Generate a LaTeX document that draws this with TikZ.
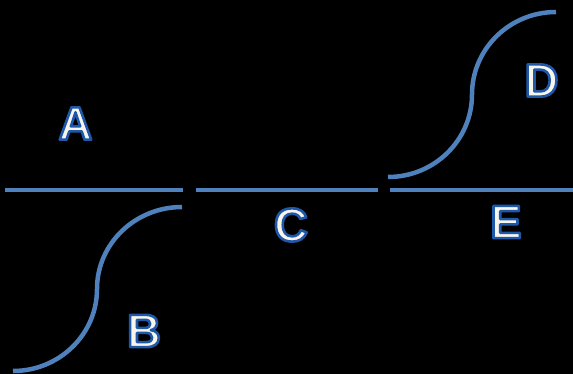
\documentclass[tikz,border=0pt]{standalone}
\usepackage{fontspec}
\setmainfont{Liberation Sans}
\definecolor{lineblue}{HTML}{4F81BD}
\definecolor{edgeblue}{HTML}{1F58A8}
\definecolor{fillwhite}{HTML}{F7F5EC}
\tikzset{
  wire/.style={draw=lineblue, line width=4.5pt},
  letter/.style={inner sep=0pt, text=fillwhite, font=\fontsize{47}{47}\selectfont\bfseries}
}
\newcommand{\lbl}[1]{\special{pdf:literal 2 Tr 2.6 w 0.122 0.345 0.659 RG 1 j}#1\special{pdf:literal 0 Tr}}
\begin{document}
\begin{tikzpicture}[x=1pt,y=-1pt]
  \fill[black] (0,0) rectangle (573,374);
  \useasboundingbox (0,0) rectangle (573,374);
  % straight segments
  \coordinate (a1) at (5,190);   \coordinate (a2) at (183,190);
  \coordinate (c1) at (196,190); \coordinate (c2) at (378,190);
  \coordinate (e1) at (390,190); \coordinate (e2) at (573,190);
  \draw[wire] (a1) -- (a2);
  \draw[wire] (c1) -- (c2);
  \draw[wire] (e1) -- (e2);
  % S-curves
  \coordinate (b1) at (182,207); \coordinate (bm) at (97,289); \coordinate (b2) at (13,371);
  \draw[wire] (b1) .. controls (135.1,207) and (97,243.7) .. (bm)
                   .. controls (97,334.3) and (59.4,371) .. (b2);
  \coordinate (d1) at (388,177); \coordinate (dm) at (472,94.5); \coordinate (d2) at (556,12);
  \draw[wire] (d1) .. controls (434.4,177) and (472,140.1) .. (dm)
                   .. controls (472,48.9) and (509.6,12) .. (d2);
  % labels
  \node[letter] (A) at (75.5,123.5) {\lbl{A}};
  \node[letter] (B) at (144,331) {\lbl{B}};
  \node[letter] (C) at (291,225) {\lbl{C}};
  \node[letter] (D) at (541.5,80.5) {\lbl{D}};
  \node[letter] (E) at (506,222) {\lbl{E}};
\end{tikzpicture}
\end{document}
